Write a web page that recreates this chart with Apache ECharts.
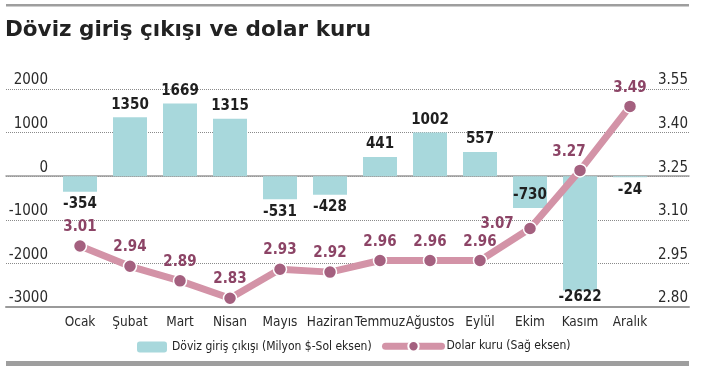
<!DOCTYPE html>
<html><head><meta charset="utf-8">
<script src="https://cdn.jsdelivr.net/npm/echarts@6/dist/echarts.min.js"></script>
<style>html,body{margin:0;padding:0;background:#fff}#c{width:710px;height:366px}</style>
</head><body><div id="c"></div>
<script>
const months = ['Ocak','Şubat','Mart','Nisan','Mayıs','Haziran','Temmuz','Ağustos','Eylül','Ekim','Kasım','Aralık'];
const flows = [-354, 1350, 1669, 1315, -531, -428, 441, 1002, 557, -730, -2622, -24];
const usdRate = [3.01, 2.94, 2.89, 2.83, 2.93, 2.92, 2.96, 2.96, 2.96, 3.07, 3.27, 3.49];
const leftTicks = [-3000, -2000, -1000, 0, 1000, 2000];
const rightTickLabels = ['2.80', '2.95', '3.10', '3.25', '3.40', '3.55'];
const flowName = 'Döviz giriş çıkışı (Milyon $-Sol eksen)';
const rateName = 'Dolar kuru (Sağ eksen)';

const COND = '"DejaVu Sans Condensed", sans-serif';
const barColor = '#a8d8dc';
const lineColor = '#d393a7';
const markColor = '#a4607f';
const rateLabelColor = '#8c4466';

const chart = echarts.init(document.getElementById('c'), null, {renderer: 'canvas'});

const barData = flows.map((v, i) => {
  const item = {value: v, label: {position: v < 0 ? 'bottom' : 'top', distance: 5}};
  if (months[i] === 'Ekim') item.label = {position: 'insideBottom', distance: 5};
  if (months[i] === 'Kasım') item.label = {position: 'bottom', distance: -1};
  return item;
});
const lineData = usdRate.map((v, i) => {
  const item = {value: v};
  if (months[i] === 'Ekim') item.label = {position: 'left', distance: 9, offset: [0, -4]};
  if (months[i] === 'Kasım') item.label = {position: 'top', offset: [-11, 0]};
  return item;
});

const TOP = 89, BOTTOM = 59;
const lMin = leftTicks[0], lMax = leftTicks[leftTicks.length - 1];

chart.setOption({
  animation: false,
  title: {
    text: 'Döviz giriş çıkışı ve dolar kuru',
    left: 0, top: 14,
    textStyle: {fontFamily: '"DejaVu Sans", sans-serif', fontWeight: 'bold', fontSize: 21.5, color: '#222'}
  },
  graphic: [
    {type: 'rect', left: 6, top: 4, shape: {width: 683, height: 2.5}, style: {fill: '#9e9e9e'}},
    {type: 'rect', left: 6, top: 361, shape: {width: 683, height: 5}, style: {fill: '#9e9e9e'}}
  ],
  legend: [
    {data: [flowName], left: 137, top: 341, padding: 0, itemWidth: 30, itemHeight: 11,
     textStyle: {fontFamily: COND, fontSize: 12, color: '#222'}},
    {data: [rateName], left: 382, top: 340, padding: 0, itemWidth: 56, itemHeight: 13, itemGap: 4,
     lineStyle: {width: 7, cap: 'round'},
     textStyle: {fontFamily: COND, fontSize: 12, color: '#222'}}
  ],
  grid: [
    {left: 6, right: 21, top: TOP, bottom: BOTTOM},
    {left: 55, right: 55, top: TOP, bottom: BOTTOM}
  ],
  xAxis: [
    {type: 'value', gridIndex: 0, min: 0, max: 1, position: 'bottom',
     axisLine: {show: true, onZero: true, onZeroAxisIndex: 0, lineStyle: {color: '#9a9a9a', width: 1.5}},
     axisTick: {show: false}, axisLabel: {show: false}, splitLine: {show: false}},
    {type: 'value', gridIndex: 0, min: 0, max: 1, position: 'bottom',
     axisLine: {show: true, onZero: false, lineStyle: {color: '#9a9a9a', width: 2}},
     axisTick: {show: false}, axisLabel: {show: false}, splitLine: {show: false}},
    {type: 'category', gridIndex: 1, data: months, position: 'bottom',
     axisLine: {show: false, onZero: false}, axisTick: {show: false},
     axisLabel: {interval: 0, fontFamily: COND, fontSize: 13.5, color: '#2a2a2a', margin: 8}}
  ],
  yAxis: [
    {type: 'value', gridIndex: 0, position: 'left', min: lMin, max: lMax, interval: 1000,
     axisLine: {show: false}, axisTick: {show: false},
     axisLabel: {inside: true, align: 'right', margin: 42, verticalAlign: 'bottom',
       fontFamily: COND, fontSize: 15, color: '#2a2a2a', padding: [0, 0, 1, 0],
       formatter: v => String(v)},
     splitLine: {show: true, lineStyle: {type: 'dotted', color: '#8a8a8a', width: 1}}},
    {type: 'value', gridIndex: 0, position: 'right', min: 0, max: rightTickLabels.length - 1, interval: 1,
     axisLine: {show: false}, axisTick: {show: false}, splitLine: {show: false},
     axisLabel: {inside: true, align: 'right', margin: 1, verticalAlign: 'bottom',
       fontFamily: COND, fontSize: 15, color: '#2a2a2a', padding: [0, 0, 1, 0],
       formatter: v => rightTickLabels[Math.round(v)]}},
    {type: 'value', gridIndex: 1, position: 'left', min: lMin, max: lMax,
     show: false, splitLine: {show: false}},
    {type: 'value', gridIndex: 1, position: 'right', min: 2.80, max: 3.55,
     show: false, splitLine: {show: false}}
  ],
  series: [
    {name: flowName, type: 'bar', xAxisIndex: 2, yAxisIndex: 2, data: barData,
     barWidth: 34, itemStyle: {color: barColor},
     label: {show: true, fontFamily: COND, fontWeight: 'bold', fontSize: 15, color: '#1f1f1f'}},
    {name: rateName, type: 'line', xAxisIndex: 2, yAxisIndex: 3, data: lineData,
     symbol: 'circle', symbolSize: 13, z: 5,
     lineStyle: {color: lineColor, width: 7},
     itemStyle: {color: markColor, borderColor: '#fff', borderWidth: 1.5},
     label: {show: true, position: 'top', distance: 4, fontFamily: COND, fontWeight: 'bold',
       fontSize: 15, color: rateLabelColor, formatter: p => p.value.toFixed(2)}}
  ]
});
</script>
</body></html>
